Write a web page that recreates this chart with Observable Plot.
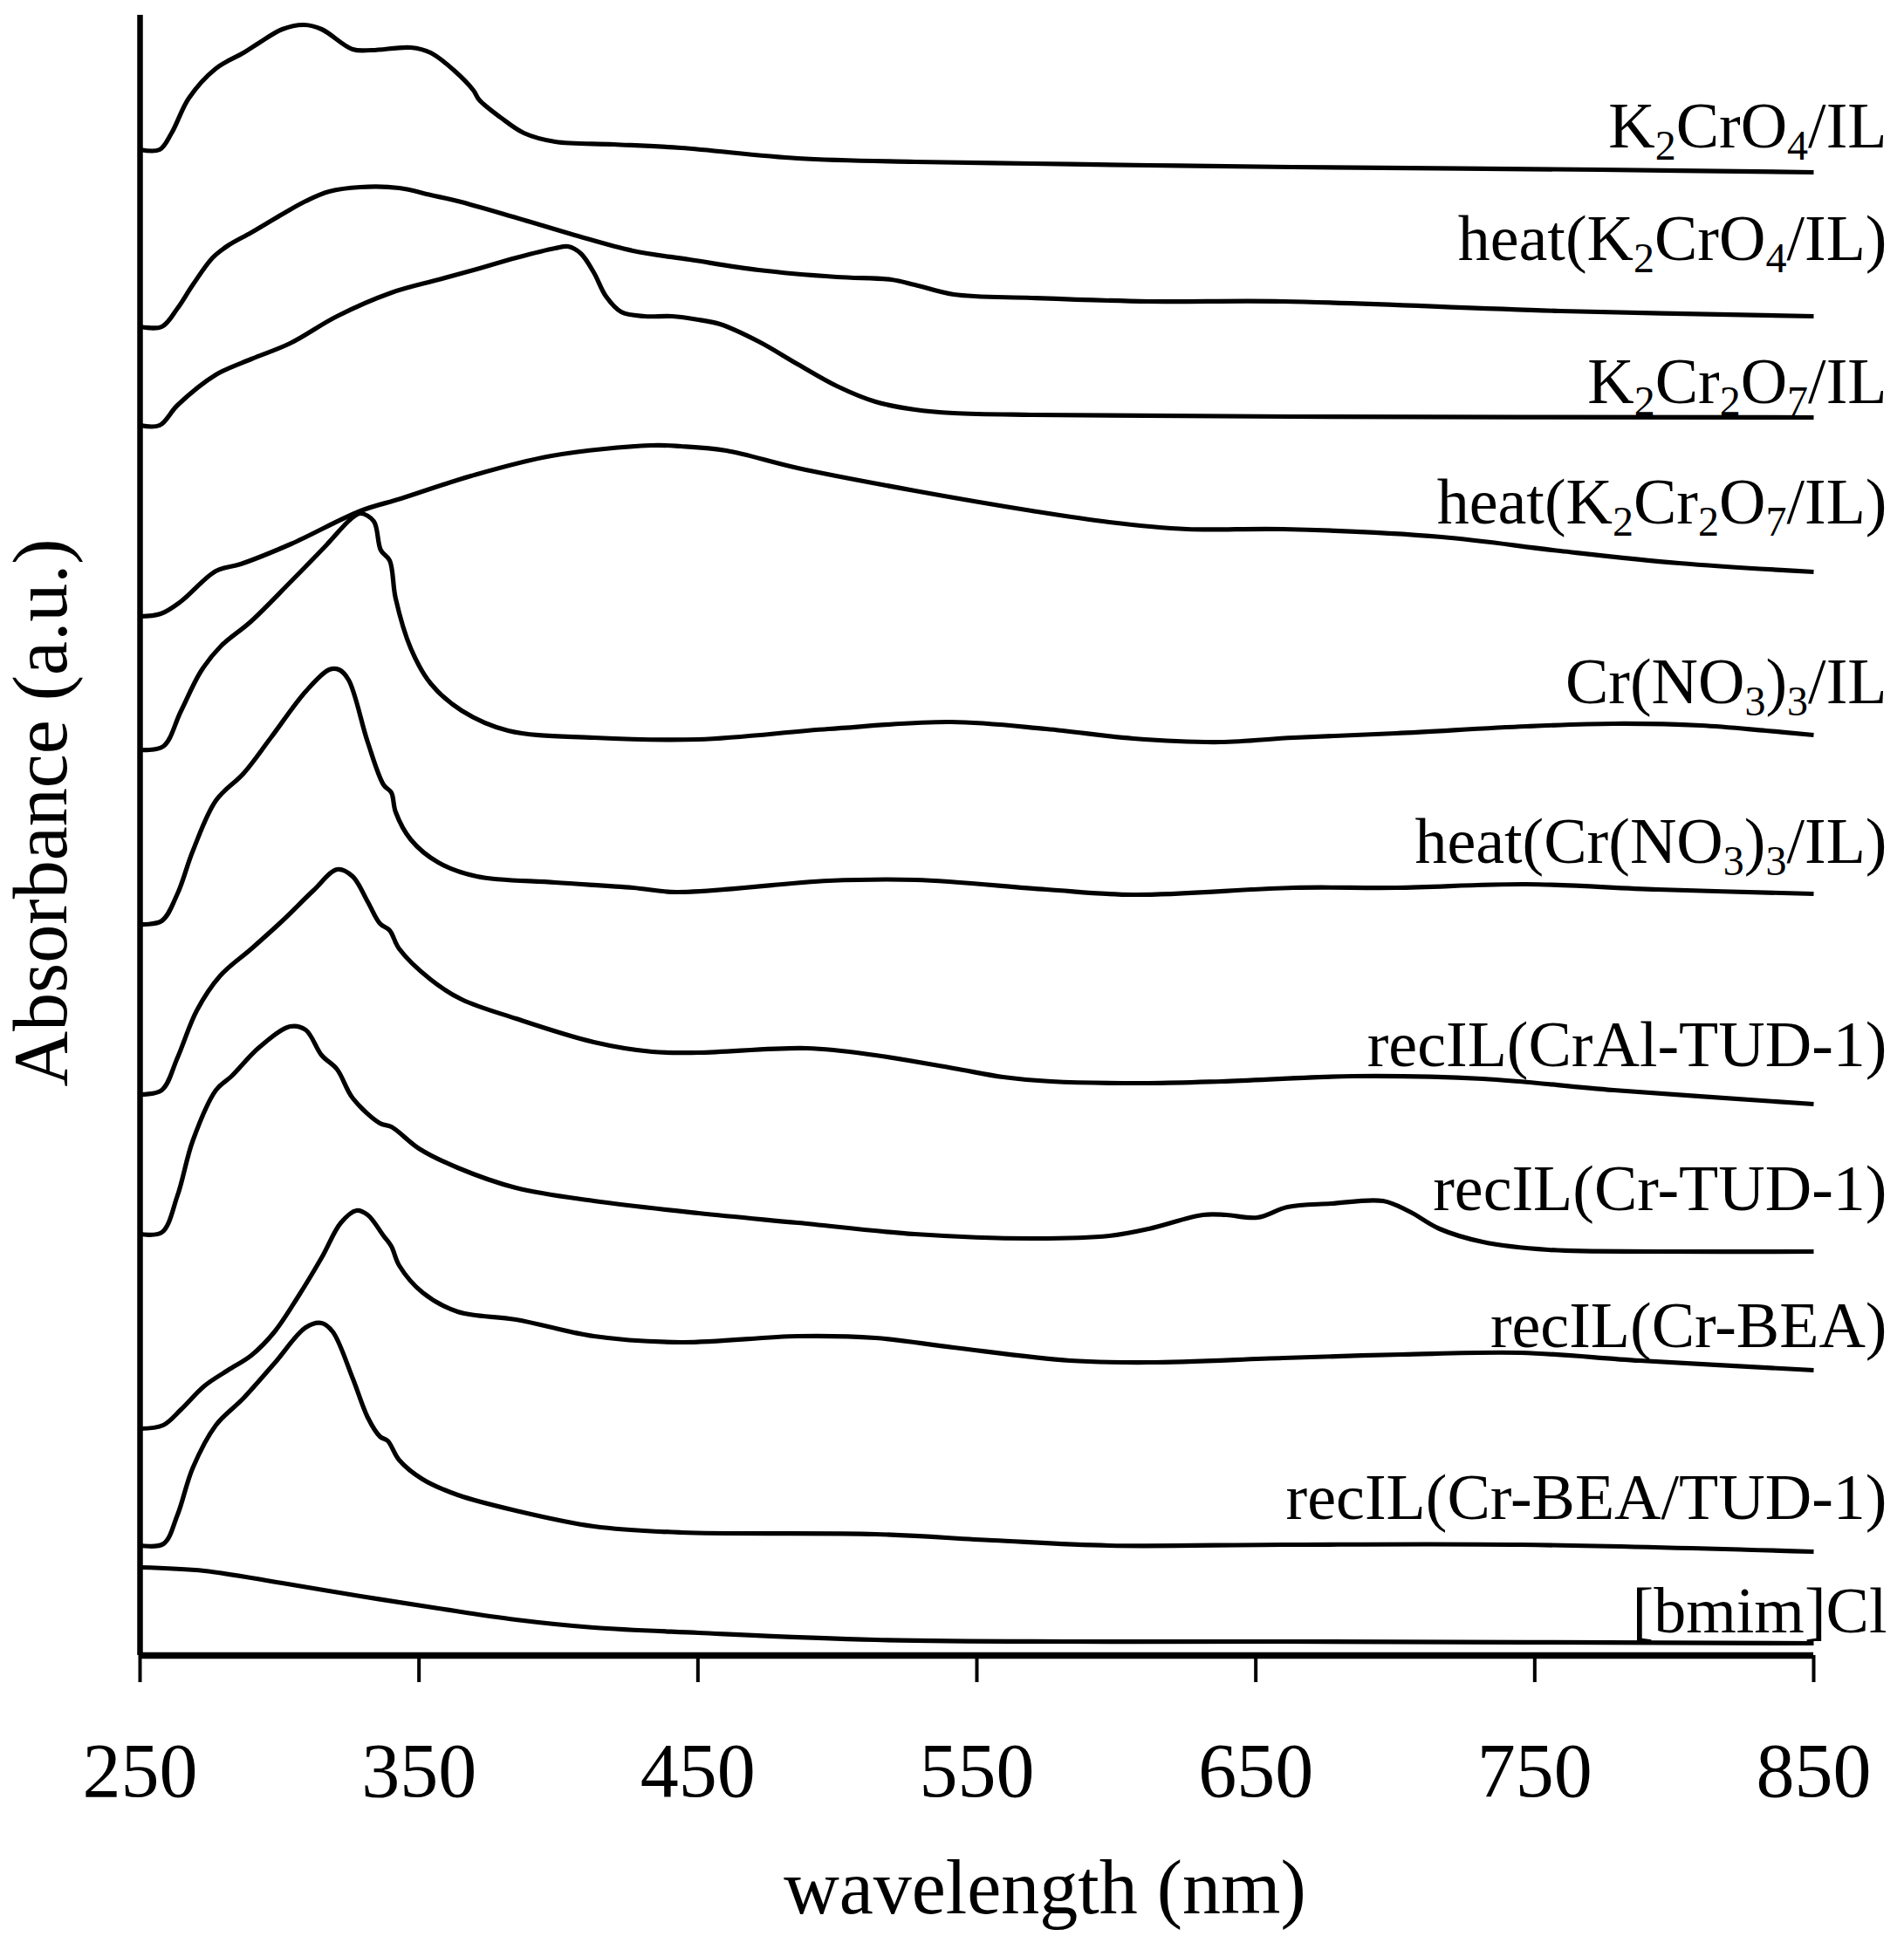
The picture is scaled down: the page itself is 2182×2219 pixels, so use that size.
<!DOCTYPE html>
<html>
<head>
<meta charset="utf-8">
<script src="https://cdn.jsdelivr.net/npm/d3@7"></script>
<script src="https://cdn.jsdelivr.net/npm/@observablehq/plot@0.6"></script>
<style>
  html, body { margin: 0; padding: 0; background: #fff; }
  #chart svg { display: block; }
</style>
</head>
<body>
<div id="chart"></div>
<script>
// ---- Data: [wavelength (nm), absorbance (a.u., stacked)] ----
const K2CrO4_IL = [[250,17.26],[257,17.26],[261.3,17.45],[267.5,17.85],[277.2,18.19],[287.1,18.37],[292.5,18.48],[301,18.64],[308.8,18.69],[315.1,18.64],[326.2,18.41],[333.2,18.40],[347.1,18.43],[354.2,18.37],[362.5,18.17],[369.5,17.94],[371.6,17.83],[379.2,17.63],[387.6,17.45],[398.9,17.35],[419.8,17.32],[443.9,17.28],[485.8,17.16],[527.8,17.12],[569.7,17.10],[611.6,17.08],[662.9,17.06],[773.3,17.03],[850,17.00]];
const heat_K2CrO4_IL = [[250,15.23],[257.8,15.23],[263.4,15.44],[268.9,15.71],[276,16.02],[281.5,16.16],[289.9,16.31],[301,16.52],[309.4,16.67],[317.8,16.78],[329,16.83],[342.9,16.82],[354.2,16.74],[363.9,16.67],[384.8,16.48],[405.8,16.28],[426.7,16.10],[447,16.00],[471.8,15.88],[499.8,15.80],[519.3,15.77],[527.8,15.71],[541.7,15.60],[569.7,15.56],[611.6,15.52],[659.8,15.52],[759.2,15.41],[850,15.35]];
const K2Cr2O7_IL = [[250,14.10],[257,14.10],[263.4,14.33],[277.2,14.68],[289.9,14.86],[303.8,15.04],[320.6,15.35],[340.1,15.62],[357,15.77],[370.7,15.89],[384.8,16.02],[398.8,16.13],[403.5,16.15],[408,16.07],[412.7,15.85],[417,15.58],[422.5,15.40],[430.8,15.35],[440.7,15.35],[450.2,15.31],[457.9,15.26],[471.8,15.06],[485.8,14.80],[499.8,14.55],[513.7,14.37],[527.8,14.28],[541.7,14.24],[569.7,14.22],[662.9,14.20],[850,14.19]];
const heat_K2Cr2O7_IL = [[250,11.91],[257.4,11.94],[264.6,12.08],[277.2,12.43],[286.1,12.51],[304.1,12.74],[329.1,13.12],[343.5,13.26],[368.7,13.52],[397.5,13.75],[433.3,13.87],[443.9,13.86],[460.2,13.81],[485.8,13.61],[527.8,13.35],[569.7,13.12],[597.5,12.99],[625.4,12.91],[659.8,12.91],[716.6,12.82],[759.2,12.66],[801.8,12.52],[850,12.42]];
const CrNO3_IL = [[250,10.38],[258.3,10.42],[264.6,10.82],[271.8,11.28],[279,11.57],[289.7,11.85],[304.1,12.31],[316.6,12.72],[325.7,13.03],[329.1,13.09],[333.8,13.00],[336.3,12.67],[339.5,12.55],[341.6,12.12],[347.1,11.54],[354.2,11.14],[365.3,10.83],[382,10.60],[412.7,10.52],[450.2,10.50],[496.8,10.62],[540.6,10.70],[574.9,10.62],[606.1,10.51],[637.2,10.47],[663.5,10.52],[700.3,10.57],[747,10.65],[778.3,10.68],[809.5,10.66],[832.9,10.60],[850,10.55]];
const heat_CrNO3_IL = [[250,8.38],[257.8,8.42],[263.4,8.73],[268.9,9.22],[277.2,9.80],[287.1,10.11],[296.9,10.52],[309.4,11.05],[317.8,11.30],[321.3,11.30],[324.8,11.18],[331.6,10.47],[337.3,9.98],[340.1,9.89],[341.6,9.67],[347.1,9.35],[356.9,9.09],[370.7,8.93],[398.9,8.86],[426.7,8.80],[442.3,8.75],[496.8,8.88],[528.1,8.89],[574.9,8.78],[606.1,8.72],[663.5,8.80],[700.3,8.80],[747,8.84],[793.9,8.78],[850,8.73]];
const recIL_CrAl_TUD1 = [[250,6.43],[257.8,6.48],[263.4,6.85],[270.3,7.39],[278.7,7.79],[289.9,8.10],[301,8.42],[312.2,8.77],[320.7,9.01],[326.2,8.93],[331.6,8.64],[336,8.39],[339.5,8.31],[342.9,8.10],[354.1,7.75],[365.3,7.52],[384.8,7.30],[412.7,7.03],[433.6,6.92],[450.2,6.91],[489.1,6.96],[513.7,6.88],[541.7,6.73],[559.4,6.63],[576.6,6.58],[611.6,6.56],[637.9,6.58],[684.7,6.64],[731.4,6.61],[778.3,6.48],[850,6.32]];
const recIL_Cr_TUD1 = [[250,4.83],[257.8,4.85],[263.4,5.27],[268.9,5.90],[277.2,6.48],[282.8,6.64],[292.7,6.97],[303.8,7.21],[309.4,7.17],[315.1,6.88],[320.6,6.72],[326.2,6.39],[336,6.10],[340.1,6.06],[350,5.81],[363.9,5.59],[384.8,5.36],[412.7,5.21],[450.2,5.07],[485.8,4.96],[527.8,4.83],[569.7,4.78],[597.5,4.81],[611.6,4.89],[631,5.05],[639.4,5.05],[650.6,5.02],[661.3,5.14],[676.9,5.18],[695.6,5.21],[705,5.09],[715.9,4.89],[731.4,4.74],[754.9,4.65],[793.9,4.63],[850,4.63]];
const recIL_Cr_BEA = [[250,2.60],[258.3,2.64],[264.7,2.82],[273.1,3.09],[281.5,3.27],[289.9,3.44],[298.2,3.71],[306.6,4.11],[315.1,4.56],[322,4.96],[327.6,5.10],[331.6,5.05],[337.3,4.81],[340.1,4.69],[342.9,4.47],[351.3,4.16],[363.9,3.94],[384.8,3.85],[412.7,3.66],[443.9,3.59],[485.8,3.66],[513.7,3.64],[541.7,3.53],[583.4,3.38],[611.6,3.36],[659.8,3.41],[702.3,3.45],[745,3.47],[787.7,3.38],[850,3.27]];
const recIL_Cr_BEA_TUD1 = [[250,1.26],[258.4,1.28],[263.4,1.61],[268.9,2.15],[277.2,2.64],[287.1,2.95],[298.2,3.35],[309.4,3.76],[315.1,3.81],[319.1,3.71],[326.2,3.18],[331.6,2.73],[336,2.51],[338.8,2.46],[342.9,2.24],[351.3,2.02],[363.9,1.84],[384.8,1.66],[412.7,1.48],[443.9,1.41],[513.7,1.39],[555.6,1.32],[597.5,1.26],[659.8,1.27],[745,1.27],[850,1.19]];
const bmimCl = [[250,1.01],[273.1,0.97],[301,0.83],[329,0.68],[357,0.54],[384.8,0.41],[412.7,0.32],[450.2,0.26],[513.7,0.18],[583.4,0.16],[659.8,0.16],[850,0.14]];

const seriesData = [K2CrO4_IL, heat_K2CrO4_IL, K2Cr2O7_IL, heat_K2Cr2O7_IL, CrNO3_IL, heat_CrNO3_IL, recIL_CrAl_TUD1, recIL_Cr_TUD1, recIL_Cr_BEA, recIL_Cr_BEA_TUD1, bmimCl];
const seriesLabels = ["K₂CrO₄/IL", "heat(K₂CrO₄/IL)", "K₂Cr₂O₇/IL", "heat(K₂Cr₂O₇/IL)", "Cr(NO₃)₃/IL", "heat(Cr(NO₃)₃/IL)", "recIL(CrAl-TUD-1)", "recIL(Cr-TUD-1)", "recIL(Cr-BEA)", "recIL(Cr-BEA/TUD-1)", "[bmim]Cl"];
const labelLevels = [17.29, 16.00, 14.36, 12.98, 10.92, 9.09, 6.76, 5.11, 3.54, 1.57, 0.27];
const xTicks = [250, 350, 450, 550, 650, 750, 850];
const xTitle = "wavelength (nm)";
const yTitle = "Absorbance (a.u.)";

// ---- Build tables ----
const rows = seriesData.flatMap((s, i) => s.map(([wl, a]) => ({series: seriesLabels[i], wl, a})));
const labelRows = seriesLabels.map((label, i) => ({label, a: labelLevels[i]}));

const FONT = "'Liberation Serif', 'Times New Roman', Times, serif";

const plot = Plot.plot({
  width: 2182,
  height: 2219,
  marginLeft: 160,
  marginRight: 104,
  marginTop: 17,
  marginBottom: 322,
  style: {background: "#fff", fontFamily: FONT, color: "#000", overflow: "visible"},
  x: {domain: [250, 850]},
  y: {domain: [0, 18.8], axis: null},
  marks: [
    Plot.axisX({ticks: xTicks, tickSize: 31, tickPadding: 68, fontSize: 88, strokeWidth: 4, label: null, tickFormat: d => String(d)}),
    Plot.ruleX([250], {strokeWidth: 6.5, stroke: "#000"}),
    Plot.ruleY([0], {strokeWidth: 7.5, stroke: "#000"}),
    Plot.line(rows, {x: "wl", y: "a", z: "series", stroke: "#000", strokeWidth: 5.2, curve: "catmull-rom", strokeLinejoin: "round", strokeLinecap: "butt"}),
    Plot.text(labelRows, {y: "a", text: "label", frameAnchor: "right", dx: 84, textAnchor: "end", lineAnchor: "bottom", fontSize: 74, fill: "#000"}),
    Plot.text([xTitle], {text: d => d, frameAnchor: "bottom", dx: 78, dy: 295, textAnchor: "middle", lineAnchor: "bottom", fontSize: 88, fill: "#000"}),
    Plot.text([yTitle], {text: d => d, frameAnchor: "left", rotate: -90, dx: -85, dy: -26, textAnchor: "middle", lineAnchor: "bottom", fontSize: 88, fill: "#000"})
  ]
});

// ---- Render chemical subscripts as real, smaller, lowered text ----
const subMap = {"₀":"0","₁":"1","₂":"2","₃":"3","₄":"4","₅":"5","₆":"6","₇":"7","₈":"8","₉":"9"};
const SVGNS = "http://www.w3.org/2000/svg";
plot.querySelectorAll("text").forEach(t => {
  const s = t.textContent;
  if (![...s].some(c => c in subMap)) return;
  const runs = [];
  for (const c of s) {
    const sub = c in subMap;
    const ch = sub ? subMap[c] : c;
    if (runs.length && runs[runs.length - 1].sub === sub) runs[runs.length - 1].text += ch;
    else runs.push({sub, text: ch});
  }
  while (t.firstChild) t.removeChild(t.firstChild);
  let lowered = false;
  for (const r of runs) {
    const ts = document.createElementNS(SVGNS, "tspan");
    ts.textContent = r.text;
    if (r.sub) {
      ts.setAttribute("font-size", "48");
      if (!lowered) { ts.setAttribute("dy", "14"); lowered = true; }
    } else if (lowered) {
      ts.setAttribute("dy", "-14");
      lowered = false;
    }
    t.appendChild(ts);
  }
});

document.getElementById("chart").appendChild(plot);
</script>
</body>
</html>
